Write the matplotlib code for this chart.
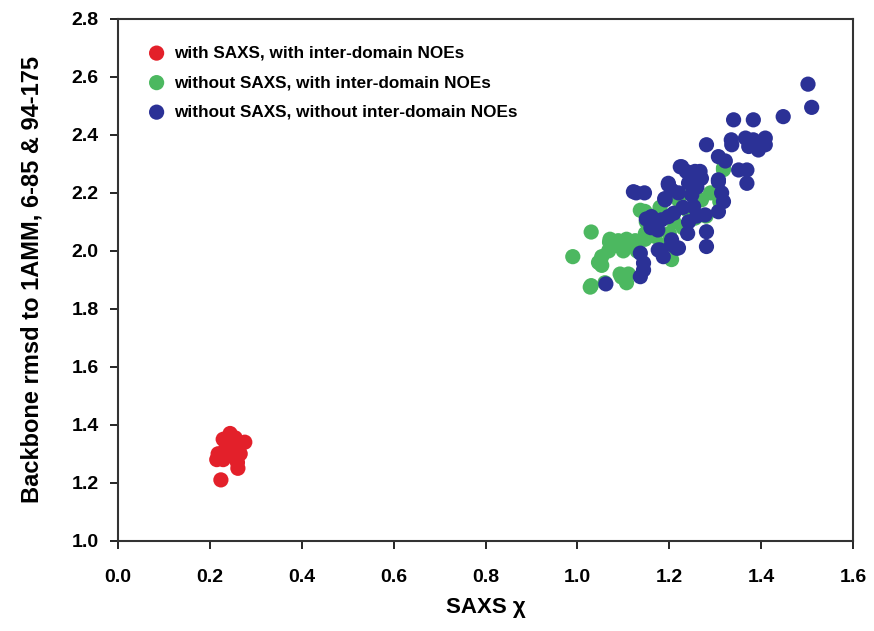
import matplotlib
matplotlib.use('Agg')
import matplotlib.pyplot as plt

plt.rcParams['font.family'] = ['Liberation Sans', 'DejaVu Sans']
plt.rcParams['font.weight'] = 'bold'

# 데이터
red_x = [0.224, 0.244, 0.229, 0.218, 0.215, 0.229, 0.255, 0.276, 0.266, 0.261, 0.244, 0.255, 0.260, 0.235]
red_y = [1.21, 1.37, 1.35, 1.30, 1.28, 1.28, 1.32, 1.34, 1.30, 1.25, 1.30, 1.355, 1.27, 1.32]

green_x = [0.99, 1.03, 1.03, 1.028, 1.046, 1.053, 1.053, 1.06, 1.068, 1.071, 1.07, 1.089, 1.093, 1.096,
           1.107, 1.107, 1.111, 1.126, 1.147, 1.169, 1.12, 1.08, 1.10, 1.137, 1.148, 1.147, 1.16, 1.18,
           1.205, 1.19, 1.22, 1.27, 1.256, 1.318, 1.318, 1.24, 1.21, 1.23, 1.20, 1.29, 1.31, 1.28,
           1.17, 1.15, 1.25, 1.13]
green_y = [1.98, 2.065, 1.88, 1.875, 1.96, 1.95, 1.98, 1.89, 2.00, 2.04, 2.03, 2.035, 1.92, 1.91,
           2.04, 1.89, 1.92, 2.035, 2.04, 2.05, 2.02, 2.02, 2.00, 2.14, 2.06, 2.136, 2.12, 2.15,
           1.97, 2.02, 2.176, 2.176, 2.113, 2.286, 2.28, 2.14, 2.10, 2.08, 2.06, 2.20, 2.17, 2.12,
           2.09, 2.10, 2.20, 2.00]

blue_x = [1.062, 1.128, 1.146, 1.122, 1.137, 1.144, 1.144, 1.137, 1.161, 1.176, 1.187, 1.205, 1.216,
          1.16, 1.175, 1.191, 1.198, 1.227, 1.224, 1.237, 1.256, 1.267, 1.198, 1.205, 1.19, 1.242,
          1.249, 1.253, 1.242, 1.161, 1.183, 1.198, 1.205, 1.22, 1.18, 1.281, 1.281, 1.281, 1.336,
          1.307, 1.322, 1.307, 1.314, 1.318, 1.307, 1.278, 1.502, 1.51, 1.448, 1.34, 1.383, 1.335,
          1.366, 1.383, 1.409, 1.373, 1.394, 1.409, 1.351, 1.369, 1.369, 1.307, 1.21, 1.23, 1.22,
          1.26, 1.27, 1.17, 1.15, 1.24, 1.26]
blue_y = [1.886, 2.20, 2.20, 2.204, 1.992, 1.958, 1.934, 1.911, 2.10, 2.003, 1.98, 2.021, 2.009,
          2.08, 2.072, 2.176, 2.233, 2.29, 2.29, 2.274, 2.274, 2.274, 2.228, 2.21, 2.18, 2.234,
          2.193, 2.153, 2.10, 2.118, 2.107, 2.118, 2.038, 2.01, 2.003, 2.066, 2.015, 2.366, 2.366,
          2.325, 2.31, 2.239, 2.20, 2.17, 2.135, 2.124, 2.575, 2.495, 2.463, 2.452, 2.452, 2.383,
          2.389, 2.383, 2.389, 2.36, 2.348, 2.366, 2.279, 2.279, 2.233, 2.245, 2.13, 2.15, 2.20,
          2.22, 2.25, 2.085, 2.11, 2.06, 2.12]

labels = ['with SAXS, with inter-domain NOEs',
          'without SAXS, with inter-domain NOEs',
          'without SAXS, without inter-domain NOEs']

fig = plt.figure(figsize=(8.74, 6.31), dpi=100)
ax = fig.add_axes([0.135, 0.143, 0.841, 0.827])

ax.scatter(red_x, red_y, s=120, c='#e3202a', edgecolors='none', label=labels[0], zorder=3)
ax.scatter(green_x, green_y, s=120, c='#4cb860', edgecolors='none', label=labels[1], zorder=3)
ax.scatter(blue_x, blue_y, s=120, c='#2b3196', edgecolors='none', label=labels[2], zorder=4)

ax.set_xlim(0, 1.6)
ax.set_ylim(1.0, 2.8)
ax.set_xticks([0.0, 0.2, 0.4, 0.6, 0.8, 1.0, 1.2, 1.4, 1.6])
ax.set_yticks([1.0, 1.2, 1.4, 1.6, 1.8, 2.0, 2.2, 2.4, 2.6, 2.8])
ax.xaxis.set_major_formatter(matplotlib.ticker.FormatStrFormatter('%.1f'))
ax.yaxis.set_major_formatter(matplotlib.ticker.FormatStrFormatter('%.1f'))
ax.tick_params(direction='out', length=6, width=1.2, labelsize=14)
ax.tick_params(axis='x', pad=14)
ax.tick_params(axis='y', pad=8)
for sp in ax.spines.values():
    sp.set_linewidth(1.5)
    sp.set_color('#333333')

ax.set_xlabel('SAXS χ', fontsize=16, fontweight='bold', labelpad=8)
ax.set_ylabel('Backbone rmsd to 1AMM, 6-85 & 94-175', fontsize=17, fontweight='bold', labelpad=20)

ax.legend(loc='upper left', frameon=False, handletextpad=0.0,
          labelspacing=0.85, markerscale=1.0, borderaxespad=0.0,
          prop={'weight': 'bold', 'size': 12.3}, bbox_to_anchor=(0.02, 0.962))

fig.savefig('out.png', dpi=100)
